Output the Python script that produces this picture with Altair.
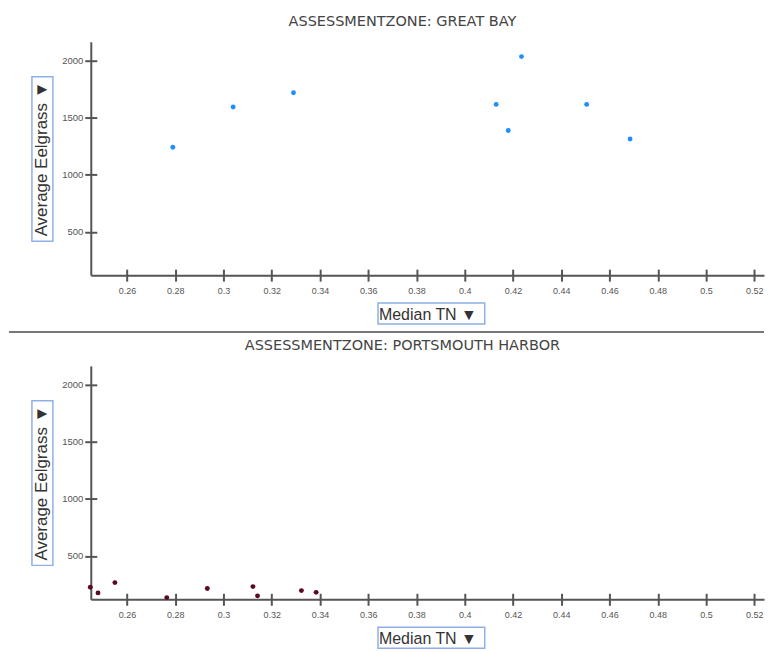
import altair as alt
import pandas as pd

# Great Bay
gb_tn = [0.279, 0.304, 0.329, 0.413, 0.418, 0.4235, 0.4505, 0.4685]
gb_eel = [1241, 1593, 1718, 1616, 1387, 2035, 1616, 1313]
# Portsmouth Harbor
ph_tn = [0.2448, 0.248, 0.255, 0.2765, 0.2933, 0.3122, 0.3141, 0.3323, 0.3384]
ph_eel = [225, 176, 266, 135, 214, 231, 150, 196, 181]

x_ticks = [0.26, 0.28, 0.30, 0.32, 0.34, 0.36, 0.38, 0.40, 0.42, 0.44, 0.46, 0.48, 0.50, 0.52]
y_ticks = [500, 1000, 1500, 2000]
titles = ["ASSESSMENTZONE: GREAT BAY", "ASSESSMENTZONE: PORTSMOUTH HARBOR"]
colors = ["#1e8fff", "#5a0a22"]

FONT = "Liberation Sans"
W, H = 675, 234
xs = alt.Scale(domain=[0.245, 0.524], nice=False, zero=False)
ys = alt.Scale(domain=[120, 2165], nice=False, zero=False)
one = pd.DataFrame({"k": [0]})


def panel(tn, eel, color, title, sep):
    df = pd.DataFrame({"tn": tn, "eel": eel})
    pts = alt.Chart(df).mark_circle(size=24, color=color, opacity=1).encode(
        x=alt.X("tn:Q", scale=xs, axis=alt.Axis(
            values=x_ticks, format=".2~f", title="Median TN \u25bc",
            titleFont=FONT, titleFontSize=16, titleFontWeight="normal", titleColor="#333",
            titleY=39, titleBaseline="middle",
            labelFont=FONT, labelFontSize=9, labelColor="#555", labelPadding=5,
            domainColor="#555", domainWidth=2, tickColor="#555", tickWidth=2, tickSize=6,
            grid=False)),
        y=alt.Y("eel:Q", scale=ys, axis=alt.Axis(
            values=y_ticks, format="d", title="Average Eelgrass \u25bc",
            titleFont=FONT, titleFontSize=17, titleFontWeight="normal", titleColor="#333",
            titleX=-49, titleY=H / 2, titleAngle=270, titleAlign="center", titleBaseline="middle",
            labelFont=FONT, labelFontSize=9.5, labelColor="#555", labelPadding=2,
            domainColor="#555", domainWidth=2, tickColor="#555", tickWidth=2, tickSize=6,
            grid=False)),
    )
    inner = alt.Chart(df).mark_point(opacity=0).encode(
        x=alt.X("tn:Q", scale=xs, axis=alt.Axis(
            orient="bottom", offset=-6, values=x_ticks, labels=False, domain=False, title=None,
            tickColor="#555", tickWidth=2, tickSize=6, grid=False)),
        y=alt.Y("eel:Q", scale=ys, axis=alt.Axis(
            orient="left", offset=-6, values=y_ticks, labels=False, domain=False, title=None,
            tickColor="#555", tickWidth=2, tickSize=6, grid=False)),
    )
    xbox = alt.Chart(one).mark_rect(fillOpacity=0, stroke="#8fb0e6", strokeWidth=1.5).encode(
        x=alt.value(288), x2=alt.value(395), y=alt.value(262), y2=alt.value(283))
    ybox = alt.Chart(one).mark_rect(fillOpacity=0, stroke="#8fb0e6", strokeWidth=1.5).encode(
        x=alt.value(-59), x2=alt.value(-38), y=alt.value(35), y2=alt.value(200))
    layers = [pts, inner, xbox, ybox]
    if sep:
        rule = alt.Chart(one).mark_rule(color="#777", strokeWidth=2).encode(
            x=alt.value(-82), x2=alt.value(W), y=alt.value(291))
        layers.append(rule)
    return alt.layer(*layers).resolve_axis(x="independent", y="independent").properties(
        width=W, height=H,
        title=alt.TitleParams(title, font="DejaVu Sans", fontSize=14.5, fontWeight="normal",
                              color="#444", anchor="middle", dx=-25, offset=12),
    )


chart = alt.vconcat(
    panel(gb_tn, gb_eel, colors[0], titles[0], True),
    panel(ph_tn, ph_eel, colors[1], titles[1], False),
    spacing=5,
).properties(padding={"left": 0, "top": 5, "right": 0, "bottom": 0}).configure_view(stroke=None)

chart.save("out.html", embed_options={"renderer": "svg", "actions": False})
